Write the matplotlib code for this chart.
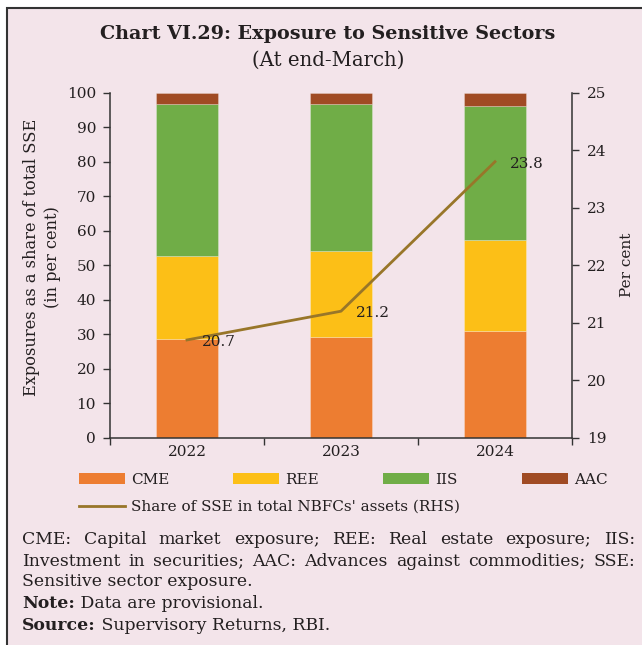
import matplotlib.pyplot as plt
import numpy as np
from matplotlib.patches import Rectangle, Patch
from matplotlib.lines import Line2D

years = ['2022', '2023', '2024']
cme = [28.7, 29.3, 30.8]
ree = [24.1, 24.7, 26.6]
iis = [44.0, 42.8, 38.8]
aac = [3.2, 3.2, 3.8]
sse_share = [20.7, 21.2, 23.8]

series_names = ['CME', 'REE', 'IIS', 'AAC']
series_colors = ['#ED7D31', '#FCBF17', '#70AD47', '#A04B24']
line_color = '#987629'
bg = '#F3E4EA'
ink = '#231F20'

W, H = 642, 645
plt.rcParams['font.family'] = 'DejaVu Serif'
plt.rcParams['text.color'] = ink
plt.rcParams['axes.edgecolor'] = '#333333'
plt.rcParams['xtick.color'] = '#333333'
plt.rcParams['ytick.color'] = '#333333'
plt.rcParams['xtick.labelcolor'] = ink
plt.rcParams['ytick.labelcolor'] = ink


def fx(px):
    return px / W


def fy(py):
    return 1 - py / H


fig = plt.figure(figsize=(W / 100, H / 100), dpi=100, facecolor='white')

# boxed panel behind everything
fig.patches.append(Rectangle((fx(7), -0.05), 1.1, fy(8) + 0.05,
                             transform=fig.transFigure, facecolor=bg,
                             edgecolor='#333333', lw=1.5, zorder=-5))

ax = fig.add_axes([fx(110), fy(437.7), fx(572) - fx(110), (437.7 - 92.7) / H])
ax.set_facecolor('none')

x = np.arange(len(years))
bottom = np.zeros(len(years))
for name, vals, col in zip(series_names, [cme, ree, iis, aac], series_colors):
    ax.bar(x, vals, 0.4, bottom=bottom, color=col, label=name,
           edgecolor=(1, 1, 1, 0.35), linewidth=0.5)
    bottom += np.array(vals)

ax.set_xlim(-0.5, 2.5)
ax.set_ylim(0, 100)
ax.set_yticks(range(0, 101, 10))
ax.set_xticks([-0.5, 0.5, 1.5, 2.5])
ax.set_xticklabels([])
ax.set_xticks(x, minor=True)
ax.set_xticklabels(years, minor=True)
ax.tick_params(axis='x', which='major', length=5, width=1)
ax.tick_params(axis='x', which='minor', length=0, pad=5, labelsize=11)
ax.tick_params(axis='y', length=5, width=1, pad=5, labelsize=11)
for s in ['top', 'right']:
    ax.spines[s].set_visible(False)
ax.spines['left'].set_linewidth(1.1)
ax.spines['bottom'].set_linewidth(1.1)

ax2 = ax.twinx()
ax2.plot(x, sse_share, color=line_color, lw=2)
ax2.set_ylim(19, 25)
ax2.set_yticks(range(19, 26))
ax2.tick_params(axis='y', length=5, width=1, pad=6, labelsize=11)
for s in ['top', 'left', 'bottom']:
    ax2.spines[s].set_visible(False)
ax2.spines['right'].set_linewidth(1.1)
for xi, v in zip(x, sse_share):
    ax2.annotate(f'{v}', (xi, v), xytext=(10.5, -1.5), textcoords='offset points',
                 ha='left', va='center', fontsize=11)

fig.text(fx(42), fy(257), 'Exposures as a share of total SSE\n(in per cent)',
         rotation=90, ha='center', va='center', fontsize=11.7, linespacing=1.25)
fig.text(fx(627), fy(265), 'Per cent', rotation=90, ha='center', va='center',
         fontsize=11)

fig.text(fx(328), fy(34), 'Chart VI.29: Exposure to Sensitive Sectors',
         ha='center', va='center', fontsize=13.8, fontweight='bold')
fig.text(fx(328), fy(60), '(At end-March)', ha='center', va='center', fontsize=14.2)

patches = [Patch(facecolor=c, label=n) for n, c in zip(series_names, series_colors)]
fig.legend(handles=patches, loc='center left', bbox_to_anchor=(fx(79), fy(480)),
           ncol=4, frameon=False, fontsize=11, handlelength=3.0,
           handletextpad=0.4, columnspacing=4.2, borderpad=0, borderaxespad=0)
fig.legend(handles=[Line2D([], [], color=line_color, lw=2,
                           label="Share of SSE in total NBFCs' assets (RHS)")],
           loc='center left', bbox_to_anchor=(fx(79), fy(507)), frameon=False,
           fontsize=11, handlelength=3.0, handletextpad=0.4, borderpad=0,
           borderaxespad=0)

# footnotes, first two lines justified
fig.canvas.draw()
renderer = fig.canvas.get_renderer()
left, right = 22, 635
fsize = 12.4


def justified(line, y):
    texts = [fig.text(0, fy(y), w, fontsize=fsize, va='center', ha='left')
             for w in line.split()]
    widths = [t.get_window_extent(renderer).width for t in texts]
    gap = (right - left - sum(widths)) / (len(texts) - 1)
    pos = left
    for t, w in zip(texts, widths):
        t.set_x(fx(pos))
        pos += w + gap


justified('CME: Capital market exposure; REE: Real estate exposure; IIS:', 540)
justified('Investment in securities; AAC: Advances against commodities; SSE:', 561)
fig.text(fx(left), fy(582), 'Sensitive sector exposure.', fontsize=fsize,
         va='center', ha='left')

for y, head, rest in [(604, 'Note:', ' Data are provisional.'),
                      (625, 'Source:', ' Supervisory Returns, RBI.')]:
    t = fig.text(fx(left), fy(y), head, fontsize=fsize, fontweight='bold',
                 va='center', ha='left')
    w = t.get_window_extent(renderer).width
    fig.text(fx(left + w), fy(y), rest, fontsize=fsize, va='center', ha='left')

fig.savefig('out.png', dpi=100, facecolor=fig.get_facecolor())
